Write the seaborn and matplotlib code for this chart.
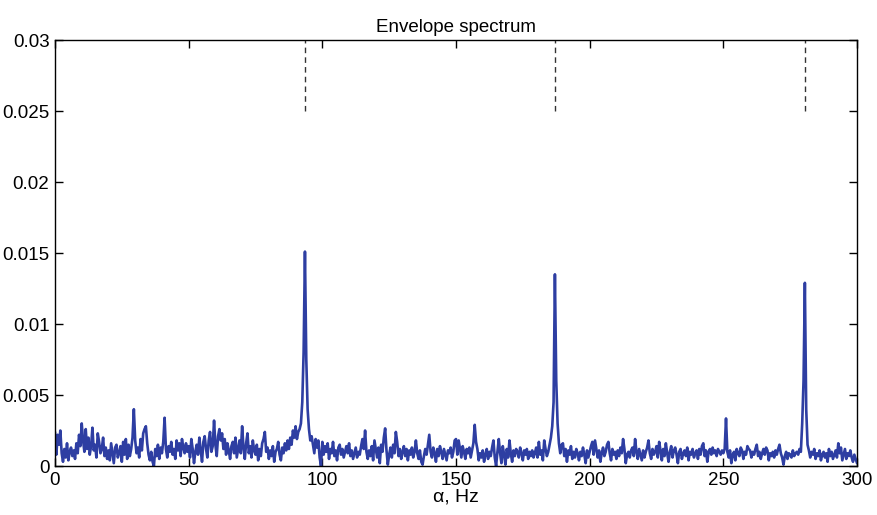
import numpy as np
import pandas as pd
import matplotlib
matplotlib.use("Agg")
import matplotlib.pyplot as plt
import seaborn as sns

# Envelope spectrum amplitudes (x1e-3), sampled every 0.5 Hz from 0 to 300 Hz
amp_milli = [
    # 0-10 Hz
    2.4, 0.8, 2.2, 1.5, 2.5, 0.9, 0.3, 1.2, 0.6, 1.6, 0.4, 1.0, 1.3, 0.7, 1.1, 0.5, 1.6, 0.9, 2.2, 1.4,
    # 10-20
    3.0, 1.8, 1.0, 2.6, 1.2, 2.0, 0.8, 1.4, 2.7, 1.1, 1.5, 0.6, 2.3, 1.7, 0.9, 1.2, 2.0, 0.7, 1.3, 0.5,
    # 20-30
    1.1, 0.4, 1.6, 0.9, 0.2, 1.3, 1.5, 0.6, 0.9, 1.4, 0.3, 1.7, 0.8, 1.9, 0.5, 1.5, 0.7, 1.2, 2.0, 4.0,
    # 30-40
    1.8, 0.9, 1.3, 0.6, 1.9, 1.1, 2.3, 2.6, 2.8, 1.6, 0.8, 0.4, 1.0, 0.3, 0.0, 1.2, 0.7, 1.5, 0.5, 1.3,
    # 40-50
    0.9, 1.7, 3.4, 1.2, 0.6, 1.4, 1.0, 1.7, 0.8, 1.2, 0.5, 1.8, 1.1, 1.6, 0.7, 1.9, 1.3, 0.9, 1.6, 1.0,
    # 50-60
    1.4, 0.6, 1.9, 1.2, 0.2, 1.0, 1.5, 0.8, 2.0, 1.1, 0.3, 1.7, 2.1, 1.2, 0.6, 1.8, 2.4, 1.0, 1.4, 3.2,
    # 60-70
    1.5, 0.7, 2.1, 2.6, 1.8, 2.3, 1.2, 1.9, 0.8, 1.6, 1.1, 0.5, 1.4, 1.7, 0.9, 2.0, 0.6, 1.2, 1.8, 0.9,
    # 70-80
    2.8, 1.3, 0.5, 1.6, 2.3, 0.9, 1.4, 0.6, 1.8, 1.1, 0.8, 1.5, 0.4, 1.2, 0.7, 1.6, 1.9, 2.4, 1.0, 1.3,
    # 80-90
    0.5, 1.1, 0.7, 1.4, 0.3, 1.0, 1.2, 1.7, 0.8, 0.4, 1.3, 0.9, 1.6, 1.1, 1.8, 1.2, 2.0, 1.5, 2.5, 2.0,
    # 90-100
    2.8, 1.9, 2.4, 2.6, 3.0, 4.5, 8.0, 15.1, 7.5, 4.0, 2.6, 1.8, 2.1, 1.5, 0.9, 1.9, 1.3, 1.8, 0.6, 0.0,
    # 100-110
    1.7, 0.8, 1.4, 1.0, 1.6, 0.5, 1.2, 0.9, 1.7, 0.7, 1.1, 0.4, 1.3, 1.5, 0.8, 1.2, 0.6, 1.0, 1.4, 0.9,
    # 110-120
    1.6, 0.7, 1.1, 0.5, 0.9, 1.3, 0.6, 1.0, 0.8, 1.4, 1.9, 1.2, 2.5, 1.0, 0.5, 1.1, 0.7, 1.4, 0.4, 1.8,
    # 120-130
    1.2, 0.6, 1.3, 0.2, 1.5, 1.0, 2.0, 2.65, 1.1, 0.1, 0.8, 1.3, 0.6, 1.5, 0.9, 2.4, 1.7, 0.7, 1.2, 0.5,
    # 130-140
    1.0, 1.4, 0.7, 1.2, 0.4, 1.1, 0.8, 1.3, 0.6, 1.0, 1.8, 0.9, 0.5, 1.1, 0.3, 0.1, 0.7, 1.2, 0.8, 1.5,
    # 140-150
    2.2, 1.0, 0.6, 1.3, 0.9, 0.3, 1.2, 0.7, 1.4, 1.0, 0.5, 1.2, 0.8, 0.4, 1.1, 0.9, 1.3, 0.6, 1.0, 1.8,
    # 150-160
    1.9, 0.8, 1.8, 1.2, 0.6, 1.4, 1.0, 0.5, 1.2, 0.9, 1.3, 0.6, 1.1, 1.6, 2.9, 1.7, 1.2, 0.4, 0.9, 0.6,
    # 160-170
    1.1, 0.3, 0.8, 1.2, 0.5, 1.0, 0.7, 1.3, 1.8, 0.6, 0.0, 1.0, 1.9, 0.9, 0.2, 1.4, 0.8, 0.1, 1.2, 0.6,
    # 170-180
    1.8, 0.9, 0.3, 1.1, 0.7, 1.2, 1.0, 0.6, 1.3, 0.9, 0.4, 1.1, 0.8, 1.2, 0.5, 1.0, 0.7, 1.1, 0.6, 0.9,
    # 180-190
    1.3, 0.6, 1.7, 0.8, 1.1, 0.4, 1.8, 1.2, 0.7, 1.0, 1.5, 2.0, 2.8, 4.5, 13.5, 6.0, 3.0, 1.6, 0.9, 1.5,
    # 190-200
    1.6, 0.7, 1.2, 0.3, 1.1, 0.8, 1.4, 0.5, 1.0, 0.6, 1.2, 0.9, 0.4, 1.0, 0.7, 1.3, 0.8, 0.2, 1.1, 0.6,
    # 200-210
    1.0, 1.4, 1.7, 0.8, 1.8, 1.2, 0.6, 1.1, 0.3, 0.9, 1.3, 0.7, 1.0, 1.5, 1.7, 0.9, 0.4, 1.2, 0.8, 1.0,
    # 210-220
    0.5, 1.1, 0.7, 1.3, 0.9, 1.9, 1.2, 0.2, 0.8, 1.0, 0.6, 1.1, 1.3, 0.7, 1.9, 1.0, 0.5, 1.2, 0.8, 0.4,
    # 220-230
    1.1, 0.6, 1.0, 1.3, 1.8, 0.9, 0.5, 1.2, 0.8, 1.0, 1.4, 0.6, 1.7, 1.1, 0.4, 1.2, 0.7, 1.6, 0.9, 0.3,
    # 230-240
    1.0, 1.4, 0.6, 1.1, 1.3, 0.8, 0.2, 1.0, 1.2, 0.5, 0.9, 1.1, 0.7, 1.3, 0.4, 1.0, 0.8, 1.2, 0.6, 0.9,
    # 240-250
    1.1, 0.5, 1.2, 0.8, 1.4, 1.6, 0.7, 1.1, 0.3, 1.0, 1.2, 0.8, 1.3, 0.9, 1.1, 0.7, 1.2, 1.0, 0.8, 1.1,
    # 250-260
    0.9, 1.2, 3.35, 1.0, 0.6, 1.1, 0.2, 0.8, 1.0, 0.4, 1.2, 0.9, 0.7, 1.3, 1.1, 0.5, 1.0, 0.8, 1.4, 1.2,
    # 260-270
    1.1, 0.6, 1.0, 0.8, 1.2, 1.5, 0.7, 1.0, 0.5, 0.9, 1.2, 0.8, 1.3, 1.1, 0.4, 0.9, 0.7, 1.0, 0.6, 1.1,
    # 270-280
    0.8, 1.2, 1.5, 0.9, 0.6, 0.1, 0.7, 1.0, 0.5, 0.9, 0.8, 0.6, 1.1, 0.7, 0.9, 1.0, 0.8, 1.2, 1.0, 3.0,
    # 280-290
    6.0, 12.9, 4.0, 1.5, 1.1, 0.6, 1.0, 0.8, 1.2, 0.5, 0.9, 0.7, 1.1, 0.4, 0.8, 1.0, 0.6, 0.9, 0.3, 1.2,
    # 290-300
    0.7, 1.0, 0.5, 0.8, 1.1, 0.6, 1.6, 0.9, 1.3, 0.4, 0.8, 1.2, 0.5, 0.9, 0.7, 1.1, 0.6, 0.3, 0.8, 0.5,
    # 300
    0.2,
]
freq_step = 0.5  # Hz
fault_freqs = [93.5, 187.0, 280.5]  # marked harmonics
marker_range = [0.025, 0.03]
x_ticks = [0, 50, 100, 150, 200, 250, 300]
y_ticks = [0, 0.005, 0.01, 0.015, 0.02, 0.025, 0.03]
y_tick_labels = ["0", "0.005", "0.01", "0.015", "0.02", "0.025", "0.03"]

freq = np.arange(len(amp_milli)) * freq_step
df = pd.DataFrame({"alpha": freq, "amp": np.array(amp_milli) * 1e-3})

sns.set_style("ticks")
plt.rcParams["font.family"] = ["Liberation Sans", "DejaVu Sans"]
plt.rcParams["text.color"] = "black"
plt.rcParams["axes.labelcolor"] = "black"

fig = plt.figure(figsize=(8.77, 5.15), dpi=100)
ax = fig.add_axes([0.0627, 0.0951, 0.9145, 0.8272])

sns.lineplot(data=df, x="alpha", y="amp", ax=ax, color="#2e3ea2",
             linewidth=1.9, estimator=None)
ax.vlines(fault_freqs, marker_range[0], marker_range[1], colors="#333333",
          linestyles=(0, (4, 3)), linewidth=1.0)

ax.set_xlim(0, 300)
ax.set_ylim(0, 0.03)
ax.set_xticks(x_ticks)
ax.set_yticks(y_ticks)
ax.set_yticklabels(y_tick_labels)
ax.tick_params(direction="in", length=6, width=1, top=True, right=True,
               labelsize=13.5, colors="black", pad=4)
for s in ax.spines.values():
    s.set_visible(True)
    s.set_linewidth(1.0)
    s.set_color("black")
ax.set_xlabel("α, Hz", fontsize=14, labelpad=0, color="black")
ax.set_ylabel("")
ax.set_title("Envelope spectrum", fontsize=13.5, pad=6, color="black")

fig.savefig("out.png", dpi=100)
